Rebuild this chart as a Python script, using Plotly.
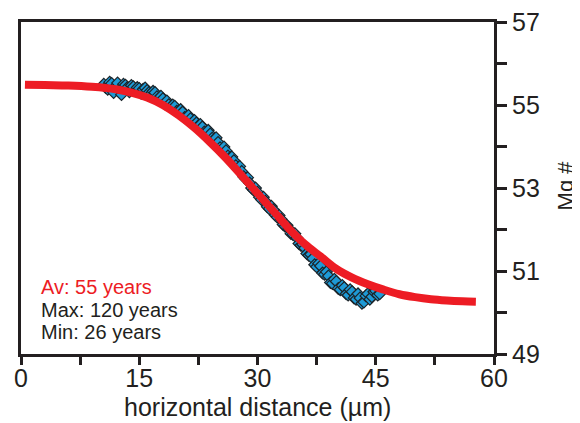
import plotly.graph_objects as go

# Model (fit) curve
model_x = [0.5, 3, 6, 9, 12, 14, 16, 18, 20, 22, 24, 26, 28, 30, 32, 34, 36, 38,
           40, 42, 44, 46, 48, 50, 52, 54, 56, 57.7]
model_y = [55.49, 55.48, 55.47, 55.44, 55.38, 55.30, 55.18, 55.00, 54.75, 54.45,
           54.10, 53.72, 53.30, 52.87, 52.45, 52.02, 51.65, 51.35, 51.05, 50.84,
           50.68, 50.55, 50.44, 50.37, 50.32, 50.29, 50.27, 50.26]

# Measured profile (diamonds)
meas_x = [10.50, 10.75, 11.00, 11.25, 11.50, 11.75, 12.00, 12.25, 12.50, 12.75,
          13.00, 13.25, 13.50, 13.75, 14.00, 14.25, 14.50, 14.75, 15.00, 15.25,
          15.50, 15.75, 16.00, 16.25, 16.50, 16.75, 17.00, 17.25, 17.50, 17.75,
          18.00, 18.25, 18.50, 18.75, 19.00, 19.25, 19.50, 19.75, 20.00, 20.25,
          20.50, 20.75, 21.00, 21.25, 21.50, 21.75, 22.00, 22.25, 22.50, 22.75,
          23.00, 23.25, 23.50, 23.75, 24.00, 24.25, 24.50, 24.75, 25.00, 25.25,
          25.50, 25.75, 26.00, 26.25, 26.50, 26.75, 27.00, 27.25, 27.50, 27.75,
          28.00, 28.25, 28.50, 28.75, 29.00, 29.25, 29.50, 29.75, 30.00, 30.25,
          30.50, 30.75, 31.00, 31.25, 31.50, 31.75, 32.00, 32.25, 32.50, 32.75,
          33.00, 33.25, 33.50, 33.75, 34.00, 34.25, 34.50, 34.75, 35.00, 35.25,
          35.50, 35.75, 36.00, 36.25, 36.50, 36.75, 37.00, 37.25, 37.50, 37.75,
          38.00, 38.25, 38.50, 38.75, 39.00, 39.25, 39.50, 39.75, 40.00, 40.25,
          40.50, 40.75, 41.00, 41.25, 41.50, 41.75, 42.00, 42.25, 42.50, 42.75,
          43.00, 43.25, 43.50, 43.75, 44.00, 44.25, 44.50, 44.75, 45.00, 45.25,
          45.50]
meas_y = [55.50, 55.42, 55.38, 55.55, 55.52, 55.30, 55.45, 55.53, 55.36, 55.25,
          55.50, 55.48, 55.42, 55.32, 55.47, 55.44, 55.35, 55.42, 55.40, 55.28,
          55.38, 55.41, 55.35, 55.30, 55.27, 55.33, 55.30, 55.20, 55.17, 55.21,
          55.15, 55.03, 55.10, 55.01, 54.95, 55.00, 54.97, 54.85, 54.85, 54.89,
          54.83, 54.70, 54.71, 54.75, 54.67, 54.55, 54.63, 54.57, 54.50, 54.53,
          54.47, 54.35, 54.33, 54.39, 54.30, 54.20, 54.17, 54.21, 54.10, 53.97,
          53.93, 53.99, 53.90, 53.77, 53.73, 53.75, 53.66, 53.54, 53.46, 53.52,
          53.40, 53.27, 53.22, 53.25, 53.12, 53.00, 52.95, 53.00, 52.90, 52.78,
          52.72, 52.78, 52.68, 52.55, 52.50, 52.56, 52.48, 52.35, 52.30, 52.34,
          52.25, 52.12, 52.08, 52.10, 52.02, 51.90, 51.88, 51.90, 51.80, 51.66,
          51.62, 51.64, 51.55, 51.42, 51.38, 51.40, 51.30, 51.15, 51.10, 51.18,
          51.12, 50.95, 50.92, 50.98, 50.88, 50.72, 50.70, 50.80, 50.75, 50.58,
          50.55, 50.65, 50.60, 50.45, 50.42, 50.55, 50.50, 50.35, 50.32, 50.45,
          50.35, 50.22, 50.25, 50.40, 50.45, 50.32, 50.38, 50.50, 50.52, 50.42,
          50.45]

annot_lines = ["Av: 55 years", "Max: 120 years", "Min: 26 years"]
annot_colors = ["#ED1C24", "#231F20", "#231F20"]

x_range = [0, 60]
y_range = [49, 57]
y_tickvals = [49, 51, 53, 55, 57]

ink = "#231F20"
font = "Liberation Sans, Arial, sans-serif"

fig = go.Figure()
fig.add_trace(go.Scatter(
    x=meas_x, y=meas_y, mode="markers",
    marker=dict(symbol="diamond", size=9, color="#1E9AD6",
                line=dict(color="#1C2429", width=1.2)),
    showlegend=False, hoverinfo="skip"))
fig.add_trace(go.Scatter(
    x=model_x, y=model_y, mode="lines",
    line=dict(color="#ED1C24", width=8, shape="spline"),
    showlegend=False, hoverinfo="skip"))

ann_y = [0.202, 0.1325, 0.066]
for t, c, yy in zip(annot_lines, annot_colors, ann_y):
    fig.add_annotation(x=0.038, y=yy, xref="paper", yref="paper",
                       text=t, showarrow=False, xanchor="left", yanchor="middle",
                       font=dict(size=20, color=c, family=font))

# axis titles
fig.add_annotation(x=0.5, y=-0.16, xref="paper", yref="paper",
                   text="horizontal distance (µm)", showarrow=False,
                   xanchor="center", yanchor="middle",
                   font=dict(size=25, color=ink, family=font))
fig.add_annotation(x=1.151, y=0.509, xref="paper", yref="paper",
                   text="Mg #", showarrow=False, textangle=-90,
                   xanchor="center", yanchor="middle",
                   font=dict(size=22, color=ink, family=font))

# the page body adds an 8px offset, so margins are shifted accordingly
fig.update_layout(
    width=580, height=423,
    margin=dict(l=13, r=94, t=14, b=77),
    paper_bgcolor="white", plot_bgcolor="white",
    font=dict(family=font, color=ink),
    xaxis=dict(range=x_range, dtick=15, tick0=0, showgrid=False, zeroline=False,
               automargin=False, ticklabeloverflow="allow", ticklabelstandoff=-8,
               showline=True, linecolor=ink, linewidth=3, mirror=True,
               ticks="outside", ticklen=8, tickwidth=3, tickcolor=ink,
               minor=dict(dtick=7.5, ticks="outside", ticklen=8, tickwidth=3,
                          tickcolor=ink, showgrid=False),
               tickfont=dict(size=25, color=ink)),
    yaxis=dict(range=y_range, side="right", tickmode="array", tickvals=y_tickvals,
               showgrid=False, automargin=False, ticklabeloverflow="allow",
               zeroline=False, showline=True, linecolor=ink, linewidth=3, mirror=True,
               ticks="outside", ticklen=10, tickwidth=3, tickcolor=ink,
               minor=dict(dtick=1, tick0=49, ticks="outside", ticklen=10, tickwidth=3,
                          tickcolor=ink, showgrid=False),
               tickfont=dict(size=25, color=ink)),
)

fig.write_html("out.html")
